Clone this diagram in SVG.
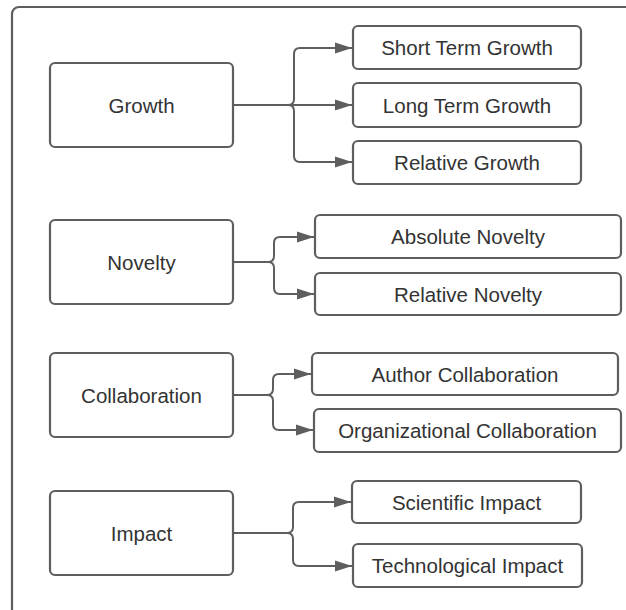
<svg xmlns="http://www.w3.org/2000/svg" width="626" height="610" viewBox="0 0 626 610">
<defs>
<style>
.frame{fill:#fff;stroke:#5e5e5e;stroke-width:2.2}
.box{fill:#fff;stroke:#5e5e5e;stroke-width:2.2}
.lbl{font-family:"Liberation Sans",Arial,sans-serif;font-size:20.5px;fill:#333;text-anchor:middle;dominant-baseline:central}
.con{fill:none;stroke:#5e5e5e;stroke-width:2;marker-end:url(#arr)}
</style>
<marker id="arr" markerUnits="userSpaceOnUse" markerWidth="18" markerHeight="12" refX="17" refY="6" orient="auto">
<path d="M0,0.5 L17,6 L0,11.5 Z" fill="#5e5e5e"/>
</marker>
</defs>
<rect class="frame" x="12" y="7" width="640" height="640" rx="7"/>
<g id="connectors">
<path class="con" d="M233,105 H288 Q294,105 294,99 V54 Q294,48 300,48 H352"/>
<path class="con" d="M233,105 H352"/>
<path class="con" d="M233,105 H288 Q294,105 294,111 V156 Q294,162 300,162 H352"/>
<path class="con" d="M233,262 H268 Q274,262 274,256 V243 Q274,237 280,237 H314"/>
<path class="con" d="M233,262 H268 Q274,262 274,268 V288 Q274,294 280,294 H314"/>
<path class="con" d="M233,395 H267 Q273,395 273,389 V380 Q273,374 279,374 H311"/>
<path class="con" d="M233,395 H267 Q273,395 273,401 V424 Q273,430 279,430 H313"/>
<path class="con" d="M233,533 H287 Q293,533 293,527 V508 Q293,502 299,502 H351"/>
<path class="con" d="M233,533 H287 Q293,533 293,539 V560 Q293,566 299,566 H352"/>
</g>
<g id="growth"><rect class="box" x="50" y="63" width="183" height="84" rx="5"/><text class="lbl" x="141.5" y="105">Growth</text></g>
<g id="short-term-growth"><rect class="box" x="353" y="26" width="228" height="43" rx="5"/><text class="lbl" x="467" y="47.5">Short Term Growth</text></g>
<g id="long-term-growth"><rect class="box" x="353" y="83" width="228" height="44" rx="5"/><text class="lbl" x="467" y="105">Long Term Growth</text></g>
<g id="relative-growth"><rect class="box" x="353" y="141" width="228" height="43" rx="5"/><text class="lbl" x="467" y="162.5">Relative Growth</text></g>
<g id="novelty"><rect class="box" x="50" y="220" width="183" height="84" rx="5"/><text class="lbl" x="141.5" y="262">Novelty</text></g>
<g id="absolute-novelty"><rect class="box" x="315" y="215" width="306" height="43" rx="5"/><text class="lbl" x="468" y="236.5">Absolute Novelty</text></g>
<g id="relative-novelty"><rect class="box" x="315" y="273" width="306" height="42" rx="5"/><text class="lbl" x="468" y="294">Relative Novelty</text></g>
<g id="collaboration"><rect class="box" x="50" y="353" width="183" height="84" rx="5"/><text class="lbl" x="141.5" y="395">Collaboration</text></g>
<g id="author-collaboration"><rect class="box" x="312" y="353" width="306" height="42" rx="5"/><text class="lbl" x="465" y="374">Author Collaboration</text></g>
<g id="organizational-collaboration"><rect class="box" x="314" y="409" width="307" height="43" rx="5"/><text class="lbl" x="467.5" y="430.5">Organizational Collaboration</text></g>
<g id="impact"><rect class="box" x="50" y="491" width="183" height="84" rx="5"/><text class="lbl" x="141.5" y="533">Impact</text></g>
<g id="scientific-impact"><rect class="box" x="352" y="481" width="229" height="42" rx="5"/><text class="lbl" x="466.5" y="502">Scientific Impact</text></g>
<g id="technological-impact"><rect class="box" x="353" y="544" width="229" height="43" rx="5"/><text class="lbl" x="467.5" y="565.5">Technological Impact</text></g>
</svg>
